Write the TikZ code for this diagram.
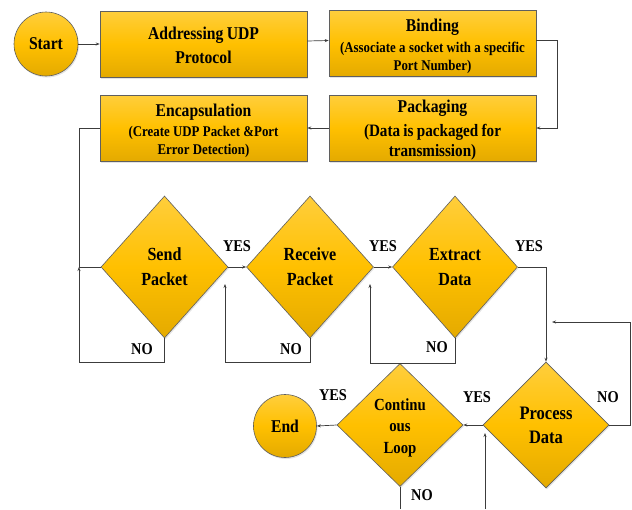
\documentclass[tikz,border=0pt]{standalone}
\usepackage{fontspec}
\setmainfont{Liberation Serif}[FakeStretch=0.87]
\usetikzlibrary{shapes.geometric,arrows.meta,shadows}

\definecolor{goldtop}{RGB}{255,206,60}
\definecolor{goldmid}{RGB}{255,192,0}
\definecolor{goldbot}{RGB}{228,170,0}
\definecolor{edgegray}{RGB}{95,95,95}
\definecolor{linegray}{RGB}{60,60,60}

\newcommand{\ttlfont}{\fontsize{18}{24}\selectfont}
\newcommand{\subfont}{\fontsize{14.8}{18}\selectfont}

\begin{document}
\begin{tikzpicture}[x=1pt,y=-1pt,
  gold/.style={draw=edgegray, line width=0.6pt,
    top color=goldtop, bottom color=goldbot, middle color=goldmid,
    drop shadow={opacity=0.22, shadow xshift=1pt, shadow yshift=-1.5pt},
    text=black},
  procbox/.style={gold, rectangle, minimum width=207pt, minimum height=66pt,
    inner sep=0pt},
  boxtext/.style={inner sep=0pt, text width=205pt, align=center, font=\bfseries},
  decision/.style={gold, diamond, inner sep=0pt, align=center,
    font={\bfseries\fontsize{18.5}{25}\selectfont}},
  terminal/.style={gold, circle, inner sep=0pt,
    font={\bfseries\fontsize{18}{20}\selectfont}},
  lbl/.style={inner sep=0pt, font={\bfseries\fontsize{16.5}{18}\selectfont}},
  wire/.style={draw=linegray, line width=0.7pt},
  conn/.style={wire, -{Stealth[length=4pt,width=3pt]}}]

\useasboundingbox (0,0) rectangle (632,509);

% terminals
\node[terminal, minimum size=64pt] (start) at (46,44) {Start};
\node[terminal, minimum size=63pt] (finish) at (285,426) {End};

% process boxes
\node[procbox] (addr) at (203.5,44) {};
\node[procbox] (bind) at (432.5,43.5) {};
\node[procbox] (pack) at (432.5,128) {};
\node[procbox] (enc) at (203.5,128) {};

% process box captions
\node[boxtext] (addrtxt) at (203.5,45)
  {{\ttlfont Addressing UDP\\Protocol\par}};
\node[boxtext] (bindtxt) at (432.5,46)
  {{\ttlfont Binding\par}\vskip3pt
   {\subfont (Associate a socket with a specific\\Port Number)\par}};
\node[boxtext] (packtxt) at (432.5,130.5)
  {{\ttlfont Packaging\par}\vskip4pt
   {\fontsize{17.4}{20}\selectfont (Data is packaged for\\transmission)\par}};
\node[boxtext] (enctxt) at (203.5,130.5)
  {{\ttlfont Encapsulation\par}\vskip2pt
   {\subfont (Create UDP Packet \&Port\\Error Detection)\par}};

% decisions
\node[decision, minimum width=127pt, minimum height=142pt] (send) at (164.5,267) {Send\\Packet};
\node[decision, minimum width=127pt, minimum height=142pt] (recv) at (310,267) {Receive\\Packet};
\node[decision, minimum width=125pt, minimum height=142pt] (extr) at (455,267) {Extract\\Data};
\node[decision, minimum width=126pt, minimum height=126pt,
      font={\bfseries\fontsize{19}{24}\selectfont}] (proc) at (546,425) {Process\\Data};
\node[decision, minimum width=126pt, minimum height=123pt,
      font={\bfseries\fontsize{17}{21.5}\selectfont}] (cont) at (400,425)
  {\rule{0pt}{17pt}Continu\\ous\\Loop};

% junction points
\coordinate (jsend) at (79,267);
\coordinate (jrecv) at (225,284);
\coordinate (jextr) at (370,284);
\coordinate (jproc) at (552,322);
\coordinate (cexit) at (400,509);
\coordinate (centry) at (485,509);
\coordinate (jcont) at (485,433);

% top row
\draw[conn] (start) -- (addr);
\draw[conn] ([yshift=3pt]addr.east) -- ([yshift=3pt]bind.west);
\draw[conn] ([yshift=3pt]bind.east) -- ++(21,0) |- (pack.east);
\draw[conn] (pack) -- (enc);
\draw[wire] (enc.west) -| (jsend) -- (send.west);

% decision chain
\draw[conn] (send.south) -- ++(0,24) -| (jsend);
\draw[conn] (send.east) -- (recv.west);
\draw[conn] (recv.south) -- ++(0,24) -| (jrecv);
\draw[conn] (recv.east) -- (extr.west);
\draw[conn] (extr.south) -- ++(0,25) -| (jextr);
\draw[conn] (extr.east) -| (proc.north);
\draw[conn] (proc.east) -- ++(21,0) |- (jproc);
\draw[conn] (proc.west) -- (cont.east);
\draw[conn] (cont.west) -- (finish.east);
\draw[wire] (cont.south) -- (cexit);
\draw[conn] (centry) -- (jcont);

% branch labels
\node[lbl] (y1) at (237,246) {YES};
\node[lbl] (y2) at (383,246) {YES};
\node[lbl] (y3) at (529,246) {YES};
\node[lbl] (y4) at (477,397) {YES};
\node[lbl] (y5) at (333,395) {YES};
\node[lbl] (n1) at (142,349) {NO};
\node[lbl] (n2) at (291,349) {NO};
\node[lbl] (n3) at (437,347) {NO};
\node[lbl] (n4) at (608,397) {NO};
\node[lbl] (n5) at (422,495) {NO};

\end{tikzpicture}
\end{document}
